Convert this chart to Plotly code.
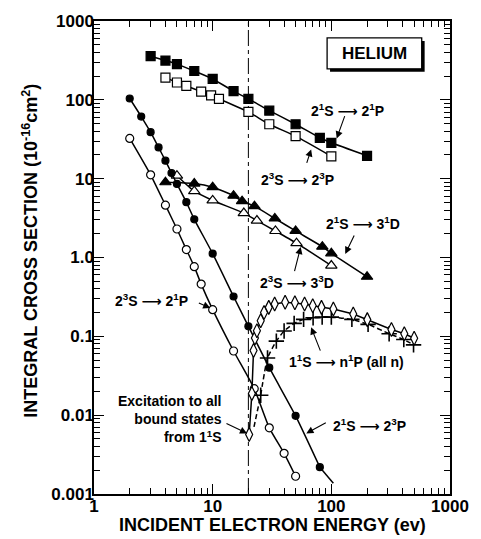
import math
import plotly.graph_objects as go

# ---- data: integral cross sections of helium (10^-16 cm^2) vs incident energy (eV) ----
# 2^1S -> 2^1P  (filled squares)
s21p_x = [3, 4, 5, 7, 10, 15, 20, 30, 50, 80, 100, 200]
s21p_y = [358, 315, 284, 232, 184, 129, 103, 73, 49, 33, 28.5, 19.5]

# 2^3S -> 2^3P  (open squares)
t23p_x = [4, 5, 6, 8, 9.7, 11.3, 20, 30, 50, 100]
t23p_y = [191, 166, 150, 127, 114, 103, 70.3, 49, 34.6, 19.2]

# 2^1S -> 3^1D  (filled triangles)
s31d_x = [4, 7, 10, 15, 17.7, 22.5, 33.4, 50, 84, 100, 200]
s31d_y = [9.0, 8.67, 7.8, 6.08, 5.19, 4.48, 3.13, 2.17, 1.37, 1.13, 0.57]

# 2^3S -> 3^3D  (open triangles)
t33d_x = [5, 7, 10, 18.3, 23.6, 33.8, 50.9, 100]
t33d_y = [10.9, 6.93, 5.29, 3.66, 2.94, 2.17, 1.52, 0.79]

# 2^1S -> 2^3P  (filled circles) and end of its fitted line
s23p_x = [2, 2.5, 3, 3.5, 4, 4.5, 5, 6, 7, 10, 15, 20, 30, 50, 80]
s23p_y = [104, 61.4, 38.9, 24.9, 16.9, 11.8, 8.57, 5.03, 3.05, 1.12, 0.32, 0.134, 0.040, 0.0098, 0.00219]
s23p_fit_end_x = [104]
s23p_fit_end_y = [0.00137]

# 2^3S -> 2^1P  (open circles)
t21p_x = [2, 3, 4, 5, 6, 7, 8, 10, 15, 22.4, 30, 40, 50]
t21p_y = [32.4, 11.2, 4.61, 2.30, 1.26, 0.766, 0.46, 0.218, 0.0652, 0.0217, 0.0069, 0.00328, 0.00168]

# excitation to all bound states from 1^1S  (open diamonds)
allb_x = [20.3, 21.4, 22.1, 22.7, 23.6, 25.4, 27.1, 29.7, 33.3, 40.8, 49.3, 59.5, 69.7, 82.6, 104, 153, 201, 321, 412, 499]
allb_y = [0.0057, 0.0188, 0.066, 0.095, 0.118, 0.158, 0.201, 0.233, 0.257, 0.27, 0.266, 0.257, 0.245, 0.233, 0.222, 0.192, 0.163, 0.122, 0.108, 0.0946]

# 1^1S -> n^1P (all n)  (crosses, dashed curve) and start of the curve
n1p_x = [25.4, 29, 34.4, 40, 48.6, 58.4, 70.2, 83.7, 100, 149, 204, 307, 408, 493]
n1p_y = [0.0179, 0.053, 0.087, 0.117, 0.146, 0.164, 0.172, 0.176, 0.175, 0.164, 0.142, 0.108, 0.091, 0.078]
n1p_start_x = [22.3]
n1p_start_y = [0.0071]

# ionisation threshold marker
threshold_x = [20, 20]
threshold_y = [0.001, 1000]

x_ticks = [1, 10, 100, 1000]
x_ticktext = ["1", "10", "100", "1000"]
y_ticks = [0.001, 0.01, 0.1, 1, 10, 100, 1000]
y_ticktext = ["0.001", "0.01", "0.1", "1.0", "10", "100", "1000"]

FONT = "Liberation Sans"
BLACK = "black"
LW = 1.5

fig = go.Figure()

fig.add_trace(go.Scatter(x=threshold_x, y=threshold_y, mode="lines",
                         line=dict(color=BLACK, width=1, dash="16px,4px,4px,4px")))


def series(x, y, symbol, fill, size, line_dash="solid", shape="spline", mline=1.2):
    fig.add_trace(go.Scatter(
        x=x, y=y, mode="lines+markers",
        line=dict(color=BLACK, width=LW, dash=line_dash, shape=shape, smoothing=0.5),
        marker=dict(symbol=symbol, size=size, color=fill,
                    line=dict(color=BLACK, width=mline)),
    ))


def line_only(x, y, dash="solid"):
    fig.add_trace(go.Scatter(x=x, y=y, mode="lines",
                             line=dict(color=BLACK, width=LW, dash=dash)))


line_only([s23p_x[-1]] + s23p_fit_end_x, [s23p_y[-1]] + s23p_fit_end_y)
line_only(n1p_start_x + [n1p_x[0]], n1p_start_y + [n1p_y[0]], dash="5px,3px")

series(s21p_x, s21p_y, "square", BLACK, 9)
series(t23p_x, t23p_y, "square", "white", 9)
series(s31d_x, s31d_y, "triangle-up", BLACK, 10)
series(t33d_x, t33d_y, "triangle-up", "white", 10)
series(t21p_x, t21p_y, "circle", "white", 8)
series(s23p_x, s23p_y, "circle", BLACK, 7)
series(n1p_x, n1p_y, "cross-thin", BLACK, 11, line_dash="5px,3px", mline=1.6)
series(allb_x, allb_y, "diamond-tall", "white", 10, shape="linear")

L = math.log10
lab_font = dict(family=FONT, size=14, color=BLACK, weight="bold")


def label(text, x, y, **kw):
    kw.setdefault("xanchor", "center")
    fig.add_annotation(text=text, x=L(x), y=L(y), xref="x", yref="y", yanchor="middle",
                       showarrow=False, font=lab_font, **kw)


def arrow(tail, head):
    fig.add_annotation(text="", x=L(head[0]), y=L(head[1]), ax=L(tail[0]), ay=L(tail[1]),
                       xref="x", yref="y", axref="x", ayref="y", showarrow=True,
                       arrowhead=2, arrowsize=1.3, arrowwidth=1.1, arrowcolor=BLACK)


ARR = "<span style='font-family:DejaVu Sans'>\u27f6</span>"
label(f"2<sup>1</sup>S {ARR} 2<sup>1</sup>P", 137, 75)
arrow((131, 65), (111, 32.4))
label(f"2<sup>3</sup>S {ARR} 2<sup>3</sup>P", 52.2, 9.8)
arrow((61.5, 15.2), (67.6, 23.5))
label(f"2<sup>1</sup>S {ARR} 3<sup>1</sup>D", 185, 2.73)
arrow((158, 1.99), (131, 1.11))
label(f"2<sup>3</sup>S {ARR} 3<sup>3</sup>D", 51.2, 0.49)
arrow((48.6, 0.644), (55.2, 1.36))
label(f"1<sup>1</sup>S {ARR} n<sup>1</sup>P (all n)", 134, 0.048)
arrow((81.7, 0.063), (67.6, 0.130))
label(f"2<sup>1</sup>S {ARR} 2<sup>3</sup>P", 208, 0.0075)
arrow((92.5, 0.00822), (61.5, 0.00587))
label(f"2<sup>3</sup>S {ARR} 2<sup>1</sup>P", 3.05, 0.29)
arrow((7.43, 0.27), (9.55, 0.229))
label("Excitation to all<br>bound states<br>from 1<sup>1</sup>S", 12.4, 0.0089,
      xanchor="right", align="right")
arrow((12.7, 0.0080), (19.5, 0.00587))

# HELIUM box with drop shadow
PL, PR, PT, PB = 94, 459, 19, 494


def px(xp):
    return (xp - PL) / (PR - PL)


def py(yp):
    return (PB - yp) / (PB - PT)


fig.add_shape(type="rect", xref="paper", yref="paper", x0=px(336), x1=px(433), y0=py(70), y1=py(39),
              fillcolor=BLACK, line=dict(width=0))
fig.add_shape(type="rect", xref="paper", yref="paper", x0=px(333), x1=px(430), y0=py(67), y1=py(36),
              fillcolor="white", line=dict(color=BLACK, width=1.3))
fig.add_annotation(text="HELIUM", x=px(381.5), y=py(52), xref="paper", yref="paper",
                   xanchor="center", yanchor="middle", showarrow=False,
                   font=dict(family=FONT, size=17, color=BLACK, weight="bold"))

# axis titles
fig.add_annotation(text="INCIDENT ELECTRON ENERGY (ev)", x=px(277), y=py(525), xref="paper", yref="paper",
                   xanchor="center", yanchor="middle", showarrow=False,
                   font=dict(family=FONT, size=18, color=BLACK, weight="bold"))
fig.add_annotation(text="INTEGRAL CROSS SECTION (10<sup>-16</sup>cm<sup>2</sup>)", x=px(28), y=py(250),
                   xref="paper", yref="paper", xanchor="center", yanchor="middle",
                   textangle=-90, showarrow=False,
                   font=dict(family=FONT, size=18, color=BLACK, weight="bold"))


def minor_vals(lo, hi):
    vals = []
    for e in range(lo, hi):
        for m in range(2, 10):
            vals.append(m * 10 ** e)
    return vals


axis_common = dict(
    type="log", showgrid=False, zeroline=False, showline=True, linecolor=BLACK, linewidth=1.5,
    mirror="allticks", ticks="inside", ticklen=10, tickwidth=1.2, tickcolor=BLACK,
    tickfont=dict(family=FONT, size=17, color=BLACK, weight="bold"),
)

fig.update_xaxes(range=[0, 3], tickvals=x_ticks, ticktext=x_ticktext, ticklabelstandoff=-4,
                 minor=dict(tickvals=minor_vals(0, 3), ticks="inside", ticklen=6, tickwidth=1, tickcolor=BLACK),
                 **axis_common)
fig.update_yaxes(range=[-3, 3], tickvals=y_ticks, ticktext=y_ticktext, ticklabelstandoff=-5,
                 minor=dict(tickvals=minor_vals(-3, 3), ticks="inside", ticklen=6, tickwidth=1, tickcolor=BLACK),
                 **axis_common)

fig.update_layout(
    width=481, height=539, showlegend=False,
    margin=dict(l=PL, r=481 - PR, t=PT, b=539 - PB, pad=0),
    plot_bgcolor="white", paper_bgcolor="white",
)

fig.write_html("out.html")
